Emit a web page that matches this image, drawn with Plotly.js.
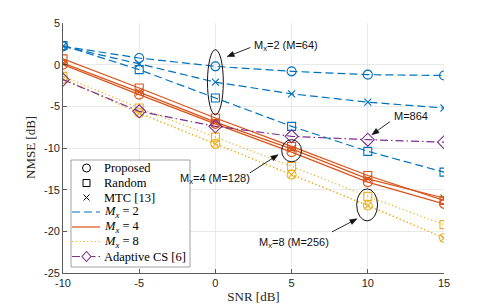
<!DOCTYPE html>
<html><head><meta charset="utf-8">
<script src="https://cdn.plot.ly/plotly-3.0.1.min.js"></script>
<style>html,body{margin:0;padding:0;background:#fff}#plot{width:491px;height:307px}</style>
</head><body><div id="plot"></div>
<script>
// ---- data ----
const snr = [-10, -5, 0, 5, 10, 15];
const prop2 = [2.2, 0.8, -0.2, -0.8, -1.2, -1.3];
const rand2 = [2.3, -0.6, -4.0, -7.4, -10.4, -12.9];
const mtc2  = [2.2, 0.1, -2.1, -3.5, -4.5, -5.2];
const prop4 = [0.0, -3.6, -7.1, -10.5, -14.1, -16.7];
const rand4 = [0.7, -2.8, -6.4, -9.8, -13.3, -16.3];
const mtc4  = [0.2, -3.3, -6.9, -10.1, -13.7, -16.0];
const prop8 = [-1.7, -5.8, -9.5, -13.2, -16.9, -20.8];
const rand8 = [-1.4, -5.2, -8.7, -12.2, -15.8, -19.2];
const mtc8  = [-1.7, -5.8, -9.5, -13.2, -16.9, -20.8];
const acs   = [-1.8, -5.6, -7.4, -8.6, -9.0, -9.3];
const xTicks = [-10, -5, 0, 5, 10, 15];
const yTicks = [-25, -20, -15, -10, -5, 0, 5];
const legendLabels = ['Proposed', 'Random', 'MTC [13]', '<i>M<sub>x</sub></i> = 2', '<i>M<sub>x</sub></i> = 4', '<i>M<sub>x</sub></i> = 8', 'Adaptive CS [6]'];

const BLUE = '#0072BD', ORANGE = '#D95319', YELLOW = '#EDB120', PURPLE = '#7E2F8E';
const DASH = '8px,4px', DOT = '1.2px,2.6px', DASHDOT = '8px,3px,1.5px,3px';

function tr(y, color, dash, symbol, size) {
  return {x: snr, y: y, type: 'scatter', mode: 'lines+markers', showlegend: false,
    line: {color: color, width: 1.2, dash: dash},
    marker: {symbol: symbol, size: size, color: color, line: {color: color, width: 1.1}}};
}
const data = [
  tr(prop2, BLUE, DASH, 'circle-open', 9), tr(rand2, BLUE, DASH, 'square-open', 8), tr(mtc2, BLUE, DASH, 'x-thin-open', 7),
  tr(prop4, ORANGE, 'solid', 'circle-open', 9), tr(rand4, ORANGE, 'solid', 'square-open', 8), tr(mtc4, ORANGE, 'solid', 'x-thin-open', 7),
  tr(prop8, YELLOW, DOT, 'circle-open', 9), tr(rand8, YELLOW, DOT, 'square-open', 8), tr(mtc8, YELLOW, DOT, 'x-thin-open', 7),
  tr(acs, PURPLE, DASHDOT, 'diamond-open', 10)
];

// pixel <-> paper / data helpers
const L = 63, T = 23, W = 381, H = 250;
const X0 = -10, X1 = 15, Y0 = -25, Y1 = 5;
const px = v => (v - L) / W;
const py = v => (T + H - v) / H;
const toPxX = x => L + (x - X0) / (X1 - X0) * W;
const toPxY = y => T + H - (y - Y0) / (Y1 - Y0) * H;
const fromPxX = p => X0 + (p - L) / W * (X1 - X0);
const fromPxY = p => Y0 + (T + H - p) / H * (Y1 - Y0);

const shapes = [];
const annotations = [];
// legend box
shapes.push({type: 'rect', xref: 'paper', yref: 'paper', x0: px(71), x1: px(190), y0: py(267), y1: py(160),
  fillcolor: '#ffffff', line: {color: '#8c8c8c', width: 0.8}, layer: 'above'});
const rowY = [168, 183, 197.5, 212, 227, 241.5, 256.5];
const mx = 86.5;
shapes.push({type: 'circle', xref: 'paper', yref: 'paper', x0: px(mx - 4), x1: px(mx + 4), y0: py(rowY[0] + 4), y1: py(rowY[0] - 4), line: {color: '#000', width: 1}, layer: 'above'});
shapes.push({type: 'rect', xref: 'paper', yref: 'paper', x0: px(mx - 3.5), x1: px(mx + 3.5), y0: py(rowY[1] + 3.5), y1: py(rowY[1] - 3.5), line: {color: '#000', width: 1}, layer: 'above'});
shapes.push({type: 'line', xref: 'paper', yref: 'paper', x0: px(mx - 3), x1: px(mx + 3), y0: py(rowY[2] + 3), y1: py(rowY[2] - 3), line: {color: '#000', width: 1}, layer: 'above'});
shapes.push({type: 'line', xref: 'paper', yref: 'paper', x0: px(mx - 3), x1: px(mx + 3), y0: py(rowY[2] - 3), y1: py(rowY[2] + 3), line: {color: '#000', width: 1}, layer: 'above'});
[[BLUE, DASH, 3], [ORANGE, 'solid', 4], [YELLOW, DOT, 5], [PURPLE, DASHDOT, 6]].forEach(([c, d, i]) => {
  shapes.push({type: 'line', xref: 'paper', yref: 'paper', x0: px(72), x1: px(100), y0: py(rowY[i]), y1: py(rowY[i]), line: {color: c, width: 1.2, dash: d}, layer: 'above'});
});
{
  const cy = rowY[6];
  shapes.push({type: 'path', xref: 'paper', yref: 'paper',
    path: `M${px(mx)},${py(cy - 5)} L${px(mx + 4.5)},${py(cy)} L${px(mx)},${py(cy + 5)} L${px(mx - 4.5)},${py(cy)} Z`,
    fillcolor: '#ffffff', line: {color: PURPLE, width: 1.1}, layer: 'above'});
}
legendLabels.forEach((t, i) => {
  annotations.push({xref: 'paper', yref: 'paper', x: px(102), y: py(rowY[i]), xanchor: 'left', yanchor: 'middle',
    text: t, showarrow: false, font: {family: 'Liberation Serif, serif', size: 12.5, color: '#000'}});
});

// ellipses (data coords)
const ell = (x0, x1, y0, y1) => ({type: 'circle', xref: 'x', yref: 'y', x0, x1, y0, y1, line: {color: '#111', width: 1}, layer: 'above'});
shapes.push(ell(-0.52, 0.52, -6.0, 1.8));
shapes.push(ell(4.35, 5.65, -11.65, -9.0));
shapes.push(ell(9.27, 10.64, -18.75, -14.9));

// arrows drawn as shapes: shaft + filled head (head at x,y; tail at ax,ay)
function arrow(x, y, ax, ay) {
  const hx = toPxX(x), hy = toPxY(y), tx = toPxX(ax), ty = toPxY(ay);
  const dx = hx - tx, dy = hy - ty, len = Math.hypot(dx, dy);
  const ux = dx / len, uy = dy / len, hl = 7, hw = 2.6;
  const bx = hx - ux * hl, by = hy - uy * hl;
  shapes.push({type: 'line', xref: 'x', yref: 'y', x0: ax, y0: ay, x1: fromPxX(bx), y1: fromPxY(by),
    line: {color: '#111', width: 0.9}, layer: 'above'});
  const p1 = [bx - uy * hw, by + ux * hw], p2 = [bx + uy * hw, by - ux * hw];
  shapes.push({type: 'path', xref: 'x', yref: 'y',
    path: `M${x},${y} L${fromPxX(p1[0])},${fromPxY(p1[1])} L${fromPxX(p2[0])},${fromPxY(p2[1])} Z`,
    fillcolor: '#111', line: {color: '#111', width: 0.6}, layer: 'above'});
}
arrow(0.77, 0.97, 2.3, 2.06);
arrow(4.11, -10.81, 2.27, -12.98);
arrow(9.29, -18.5, 7.65, -20.07);
arrow(10.27, -8.4, 11.45, -6.84);

const lab = (x, y, t, anchor) => ({x, y, xref: 'x', yref: 'y', text: t, showarrow: false, xanchor: anchor, yanchor: 'middle',
  font: {family: 'Liberation Sans, Arial, sans-serif', size: 11, color: '#111'}});
annotations.push(lab(2.4, 2.25, 'M<sub>x</sub>=2 (M=64)', 'left'));
annotations.push(lab(2.4, -13.75, 'M<sub>x</sub>=4 (M=128)', 'right'));
annotations.push(lab(5.17, -21.35, 'M<sub>x</sub>=8 (M=256)', 'center'));
annotations.push(lab(11.6, -6.15, 'M=864', 'left'));

// y-axis title placed as annotation for exact position
annotations.push({xref: 'paper', yref: 'paper', x: px(30), y: py(148), xanchor: 'center', yanchor: 'middle', textangle: -90,
  text: 'NMSE [dB]', showarrow: false, font: {family: 'Liberation Serif, serif', size: 13, color: '#262626'}});

const axisCommon = {showgrid: true, gridcolor: '#e3e3e3', gridwidth: 0.8, zeroline: false,
  showline: true, linecolor: '#333', linewidth: 0.8, ticks: 'inside', ticklen: 4, tickcolor: '#333', tickwidth: 0.8,
  tickfont: {family: 'Liberation Sans, Arial, sans-serif', size: 11, color: '#262626'}, mirror: false};

const layout = {
  width: 491, height: 307,
  margin: {l: L, r: 491 - L - W, t: T, b: 307 - T - H},
  paper_bgcolor: '#fff', plot_bgcolor: '#fff',
  showlegend: false,
  xaxis: Object.assign({}, axisCommon, {range: [X0, X1], tickvals: xTicks, ticktext: xTicks.map(String),
    title: {text: 'SNR [dB]', font: {family: 'Liberation Serif, serif', size: 13, color: '#262626'}, standoff: 3}}),
  yaxis: Object.assign({}, axisCommon, {range: [Y0, Y1], tickvals: yTicks, ticktext: yTicks.map(String)}),
  shapes: shapes,
  annotations: annotations
};

Plotly.newPlot('plot', data, layout, {staticPlot: true, displayModeBar: false});
</script></body></html>
